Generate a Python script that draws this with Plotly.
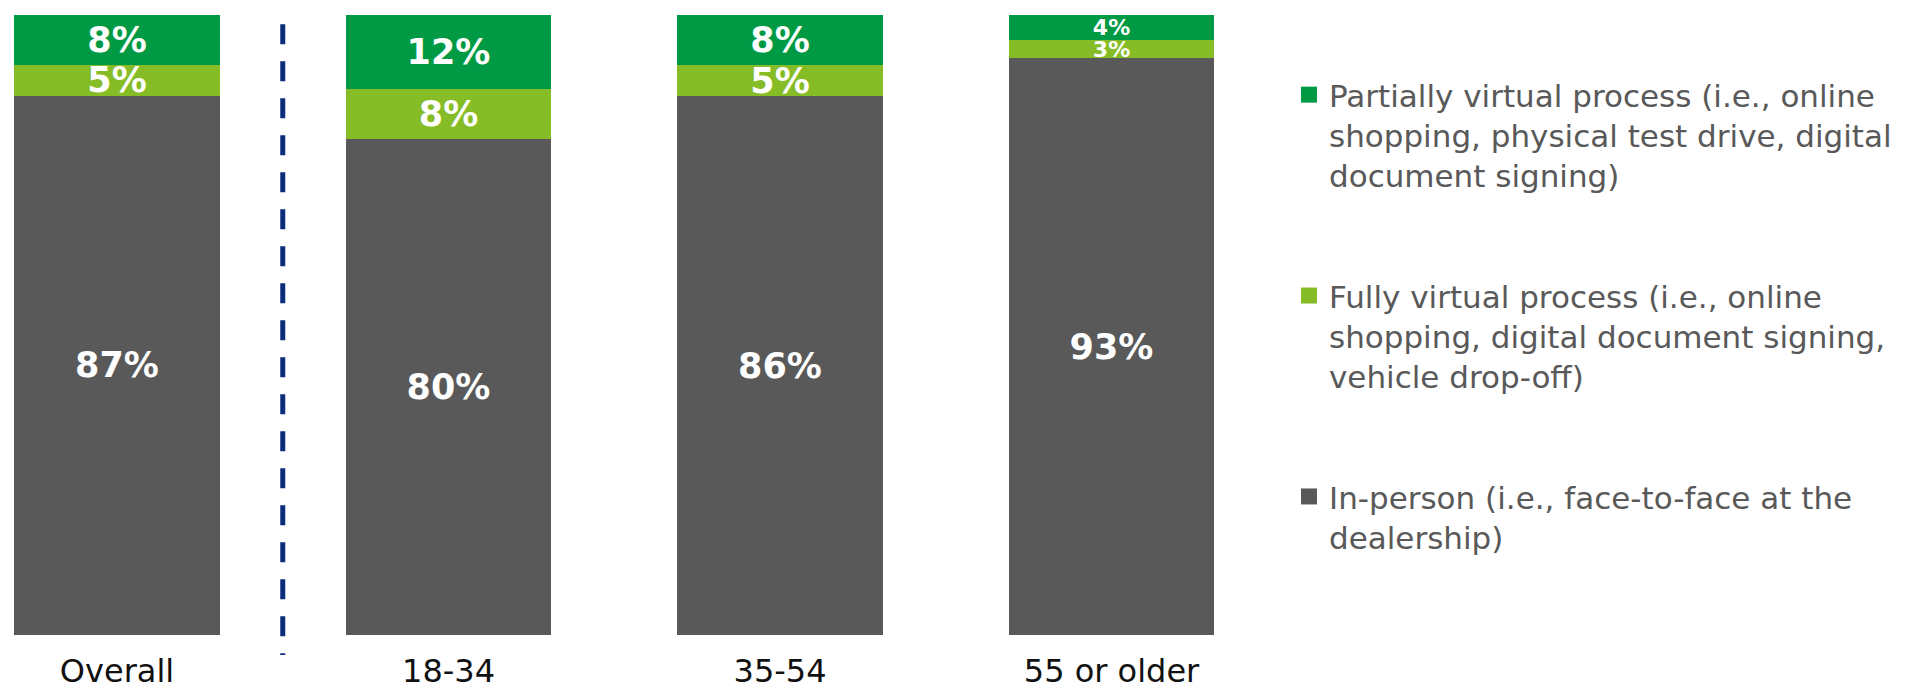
import plotly.graph_objects as go

categories = ["Overall", "18-34", "35-54", "55 or older"]
in_person = [87, 80, 86, 93]
fully_virtual = [5, 8, 5, 3]
partially_virtual = [8, 12, 8, 4]

name_in_person = "In-person (i.e., face-to-face at the<br>dealership)"
name_fully = "Fully virtual process (i.e., online<br>shopping, digital document signing,<br>vehicle drop-off)"
name_partial = "Partially virtual process (i.e., online<br>shopping, physical test drive, digital<br>document signing)"

color_in_person = "#595959"
color_fully = "#86BC25"
color_partial = "#009A44"

# stacking order: bottom -> top
stack = [
    (name_in_person, in_person, color_in_person, [35, 35, 35, 35]),
    (name_fully, fully_virtual, color_fully, [35, 35, 35, 22]),
    (name_partial, partially_virtual, color_partial, [35, 35, 35, 22]),
]

fig = go.Figure()
for name, vals, col, sizes in stack:
    fig.add_trace(go.Bar(
        x=categories, y=vals, name=name,
        marker=dict(color=col, line=dict(width=0)),
        text=[f"{v}%" for v in vals], texttemplate="%{text}",
        textposition="inside", insidetextanchor="middle",
        constraintext="none", textangle=0,
        textfont=dict(family="DejaVu Sans", size=sizes, color="white", weight="bold"),
        showlegend=False, hoverinfo="skip",
    ))

# legend entries (square markers), listed top -> bottom
legend_items = [(name_partial, color_partial), (name_fully, color_fully), (name_in_person, color_in_person)]
for i, (name, col) in enumerate(legend_items):
    fig.add_trace(go.Scatter(
        x=[None], y=[None], mode="markers", name=name,
        marker=dict(symbol="square", size=16, color=col, line=dict(width=0)),
        legendgroup=f"g{i}", showlegend=True, hoverinfo="skip",
    ))

fig.add_shape(type="line", xref="x", yref="paper", x0=0.5, x1=0.5, y0=0.985, y1=-0.0323,
              line=dict(color="#0B2D7A", width=5, dash="20px,17px"))

fig.update_layout(
    width=1917, height=684,
    barmode="stack", barnorm="percent", bargap=0.379,
    plot_bgcolor="white", paper_bgcolor="white",
    margin=dict(l=2, r=685, t=7, b=57, autoexpand=False),
    font=dict(family="DejaVu Sans"),
    xaxis=dict(range=[-0.3228, 3.3876], showgrid=False, zeroline=False, showline=False,
               ticks="", tickfont=dict(family="DejaVu Sans", size=32, color="#111111"),
               ticklabelstandoff=14, automargin=False),
    yaxis=dict(range=[0, 100], visible=False, showgrid=False, zeroline=False, automargin=False),
    legend=dict(xref="container", yref="container", x=1281/1917, xanchor="left",
                y=1 - 60/684, yanchor="top", traceorder="grouped",
                tracegroupgap=77, valign="top", maxheight=680,
                font=dict(family="DejaVu Sans", size=31, color="#595959"),
                bgcolor="rgba(0,0,0,0)"),
    showlegend=True,
)

fig.write_html("out.html")
